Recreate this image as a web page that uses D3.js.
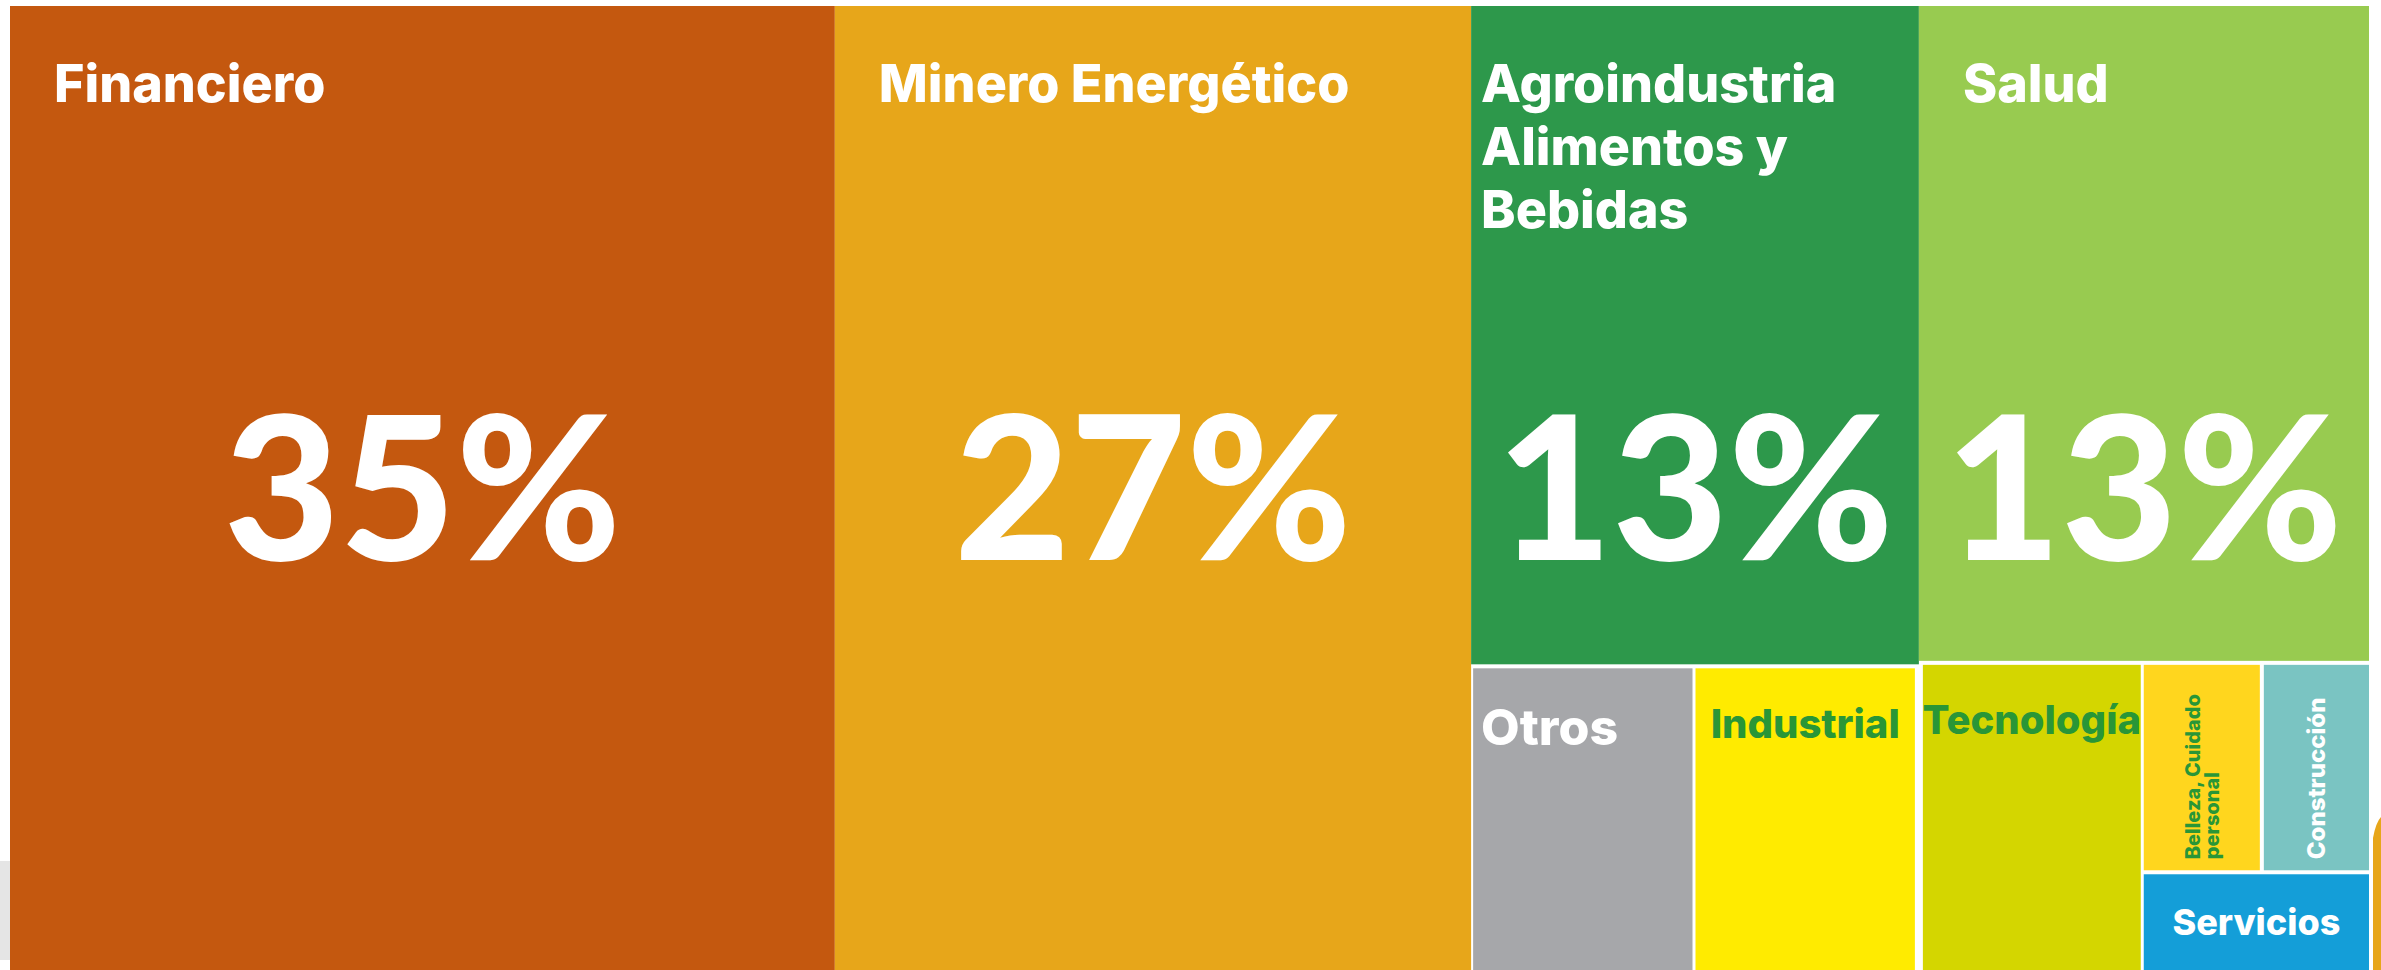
<!DOCTYPE html>
<html lang="es">
<head>
<meta charset="utf-8">
<title>Participación por sector</title>
<script src="https://cdn.jsdelivr.net/npm/d3@7"></script>
<style>
	body { margin: 0; background: #fff; }
	svg { display: block; }
	text { font-family: "Inter", "Noto Sans", sans-serif; font-weight: 800; }
	text.bigValue { font-family: "Lato", "Inter", sans-serif; font-weight: 900; }
</style>
</head>
<body>
<script>
(function(){
	//sectores y su participación (%)
	var sectors = ["Financiero", "Minero Energético", "Agroindustria Alimentos y Bebidas", "Salud",
		"Otros", "Industrial", "Tecnología", "Belleza, Cuidado personal", "Construcción", "Servicios"];
	var shares = [35, 27, 13, 13, 3, 3, 3, 1.1, 1, 1];
	var colors = ["#c4580f", "#e7a61a", "#2d984b", "#98cb50", "#a6a7aa",
		"#ffeb00", "#d4d600", "#ffd61e", "#7ac4c2", "#149ed8"];

	var green = "#299637";

	//estilo de las etiquetas de los sectores pequeños
	var smallLabel = {
		"Otros": {size: 50, fill: "#fff", align: "left"},
		"Industrial": {size: 40, fill: green, align: "center"},
		"Tecnología": {size: 40, fill: green, align: "center"},
		"Belleza, Cuidado personal": {size: 20, fill: green, rotate: true, lineH: 19},
		"Construcción": {size: 24, fill: "#fff", rotate: true, lineH: 24},
		"Servicios": {size: 36, fill: "#fff", align: "middle"}
	};

	var width = 2381,
		height = 970,
		left = 10,
		top = 6,
		chartW = 2359,
		chartH = 964;

	function leaf(i){
		return {name: sectors[i], value: shares[i], idx: i};
	}

	//estructura del treemap (orden de cortes)
	var treeData = {name: "total", children: [
		leaf(0), leaf(1),
		{name: "grupoAgro", children: [leaf(2), {name: "bajoAgro", children: [leaf(4), leaf(5)]}]},
		{name: "grupoSalud", children: [leaf(3), {name: "bajoSalud", children: [leaf(6),
			{name: "menores", children: [{name: "bellezaConstr", children: [leaf(7), leaf(8)]}, leaf(9)]}]}]}
	]};

	var groupPad = {
		grupoAgro: {inner: 4},
		grupoSalud: {inner: 4},
		bajoAgro: {inner: 3, left: 2, right: 4},
		bajoSalud: {inner: 3, left: 4},
		menores: {inner: 4},
		bellezaConstr: {inner: 4}
	};

	function pad(key){
		return function(d){
			var p = groupPad[d.data.name];
			return p && p[key] ? p[key] : 0;
		};
	}

	var root = d3.hierarchy(treeData)
		.sum(function(d){ return d.value; });

	d3.treemap()
		.tile(d3.treemapSliceDice)
		.size([chartW, chartH])
		.paddingInner(pad("inner"))
		.paddingLeft(pad("left"))
		.paddingRight(pad("right"))
		(root);

	var svg = d3.select("body")
		.append("svg")
		.attr("width", width)
		.attr("height", height);

	//adornos de los bordes
	svg.append("rect")
		.attr("x", 0).attr("y", 861)
		.attr("width", 10).attr("height", 99)
		.style("fill", "#e5e5e5");
	svg.append("path")
		.attr("d", "M2373,838 Q2376,822 2381,817 L2381,970 L2373,970 Z")
		.style("fill", "#e7a61a");

	var chart = svg.append("g")
		.attr("transform", "translate(" + left + "," + top + ")");

	var cells = chart.selectAll(".cell")
		.data(root.leaves())
		.enter()
		.append("g")
		.attr("class", "cell");

	cells.append("rect")
		.attr("x", function(d){ return d.x0; })
		.attr("y", function(d){ return d.y0; })
		.attr("width", function(d){ return d.x1 - d.x0; })
		.attr("height", function(d){ return d.y1 - d.y0; })
		.style("fill", function(d){ return colors[d.data.idx]; });

	//parte el texto en renglones que quepan en maxW
	function wrap(textEl, words, maxW){
		var lines = [], line = [];
		var probe = textEl.append("tspan");
		words.forEach(function(w){
			var test = line.concat([w]).join(" ");
			probe.text(test);
			if (line.length && probe.node().getComputedTextLength() > maxW){
				lines.push(line.join(" "));
				line = [w];
			} else {
				line.push(w);
			}
		});
		lines.push(line.join(" "));
		probe.remove();
		return lines;
	}

	var bigValueY = chartH / 2 + 0.72 * 200 / 2;

	cells.each(function(d){
		var g = d3.select(this),
			w = d.x1 - d.x0,
			h = d.y1 - d.y0,
			words = d.data.name.split(" ");

		if (d.data.value >= 10){
			//nombre arriba a la izquierda, un text por renglón
			var probeText = g.append("text").attr("font-size", 52);
			var lines = wrap(probeText, words, w - 20);
			probeText.remove();
			var padX = lines.length > 1 ? 10 : 44;
			g.selectAll(".name")
				.data(lines)
				.enter()
				.append("text")
				.attr("class", "name")
				.attr("font-size", 52)
				.attr("x", d.x0 + padX)
				.attr("y", function(s, i){ return d.y0 + 96 + i * 63; })
				.style("fill", "#fff")
				.text(function(s){ return s; });

			//porcentaje grande
			g.append("text")
				.attr("class", "bigValue")
				.attr("font-size", 200)
				.attr("text-anchor", "middle")
				.attr("x", (d.x0 + d.x1) / 2)
				.attr("y", bigValueY)
				.style("fill", "#fff")
				.text(Math.round(d.data.value) + "%");
			return;
		}

		var st = smallLabel[d.data.name];
		var t = g.append("text")
			.attr("font-size", st.size)
			.style("fill", st.fill);
		var cap = 0.73 * st.size;

		if (st.rotate){
			var rl = wrap(t, words, h - 22);
			var n = rl.length;
			var shift = ((n - 1) * st.lineH - cap) / 2;
			t.attr("transform", "translate(" + ((d.x0 + d.x1) / 2) + "," + (d.y1 - 11) + ") rotate(-90)");
			t.selectAll("tspan")
				.data(rl)
				.enter()
				.append("tspan")
				.attr("x", 0)
				.attr("y", function(s, i){ return i * st.lineH - shift; })
				.text(function(s){ return s; });
		} else if (st.align === "middle"){
			t.attr("text-anchor", "middle")
				.attr("x", (d.x0 + d.x1) / 2)
				.attr("y", (d.y0 + d.y1) / 2 + cap / 2)
				.text(d.data.name);
		} else if (st.align === "center"){
			t.attr("text-anchor", "middle")
				.attr("x", (d.x0 + d.x1) / 2)
				.attr("y", d.y0 + 40 + cap)
				.text(d.data.name);
		} else {
			t.attr("x", d.x0 + 8)
				.attr("y", d.y0 + 40 + cap)
				.text(d.data.name);
		}
	});
})();
</script>
</body>
</html>
